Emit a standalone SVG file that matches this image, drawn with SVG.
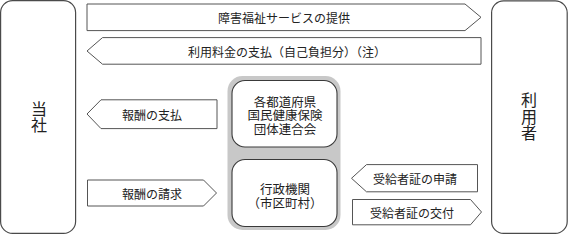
<svg xmlns="http://www.w3.org/2000/svg" width="568" height="235" viewBox="0 0 568 235">
  <style>
    .box { fill: #ffffff; stroke: #4a4a4a; stroke-width: 1.2; }
    .inner { fill: #ffffff; stroke: #3a3a3a; stroke-width: 1.1; }
    .outer { fill: #c8c8c8; stroke: none; }
    .arrow { fill: #ffffff; stroke: #555555; stroke-width: 1; stroke-linejoin: miter; }
    text { font-family: "Noto Sans CJK JP", "Noto Sans", sans-serif; fill: #222222; text-anchor: middle; dominant-baseline: central; }
    .lbl { font-size: 12px; }
    .big { font-size: 16px; writing-mode: vertical-rl; text-orientation: upright; letter-spacing: 0.5px; }
    .ctr { font-size: 12.5px; }
  </style>

  <g id="node-company">
    <rect class="box" x="0.6" y="0.6" width="75" height="232.8" rx="12" ry="12"/>
    <text class="big" x="39" y="117">当社</text>
  </g>

  <g id="node-user">
    <rect class="box" x="491.6" y="0.8" width="75.6" height="232.6" rx="12" ry="12"/>
    <text class="big" x="529" y="117">利用者</text>
  </g>

  <g id="node-center">
    <rect class="outer" x="227.5" y="76" width="113" height="154" rx="15" ry="15"/>
    <g id="node-kokuho">
      <rect class="inner" x="232" y="80.5" width="105" height="66.5" rx="13" ry="13"/>
      <text class="ctr" x="285" y="100.5"><tspan x="285" y="100.5">各都道府県</tspan><tspan x="285" y="114">国民健康保険</tspan><tspan x="285" y="127.5">団体連合会</tspan></text>
    </g>
    <g id="node-gyosei">
      <rect class="inner" x="232" y="159.5" width="105" height="67" rx="13" ry="13"/>
      <text class="ctr" x="285" y="188"><tspan x="285" y="188">行政機関</tspan><tspan x="285" y="201.5">（市区町村）</tspan></text>
    </g>
  </g>

  <g id="connectors">
    <g id="arrow-service">
      <polygon class="arrow" points="87,4 465,4 481,17.3 465,30.6 87,30.6"/>
      <text class="lbl" x="284" y="17.5">障害福祉サービスの提供</text>
    </g>
    <g id="arrow-fee">
      <polygon class="arrow" points="87,51 102.5,37.6 481,37.6 481,64.2 102.5,64.2"/>
      <text class="lbl" x="287" y="51">利用料金の支払（自己負担分）（注）</text>
    </g>
    <g id="arrow-pay">
      <polygon class="arrow" points="87,114 101,99.8 217,99.8 217,128.6 101,128.6"/>
      <text class="lbl" x="152" y="114.5">報酬の支払</text>
    </g>
    <g id="arrow-claim">
      <polygon class="arrow" points="87.5,180 203.5,180 216.5,193 203.5,206 87.5,206"/>
      <text class="lbl" x="152" y="193">報酬の請求</text>
    </g>
    <g id="arrow-apply">
      <polygon class="arrow" points="351.5,178.3 366.5,164.6 477.5,164.6 477.5,191.8 366.5,191.8"/>
      <text class="lbl" x="415" y="178.5">受給者証の申請</text>
    </g>
    <g id="arrow-issue">
      <polygon class="arrow" points="352.5,199.5 470.5,199.5 481.5,212 470.5,224.8 352.5,224.8"/>
      <text class="lbl" x="412" y="212.5">受給者証の交付</text>
    </g>
  </g>
</svg>
